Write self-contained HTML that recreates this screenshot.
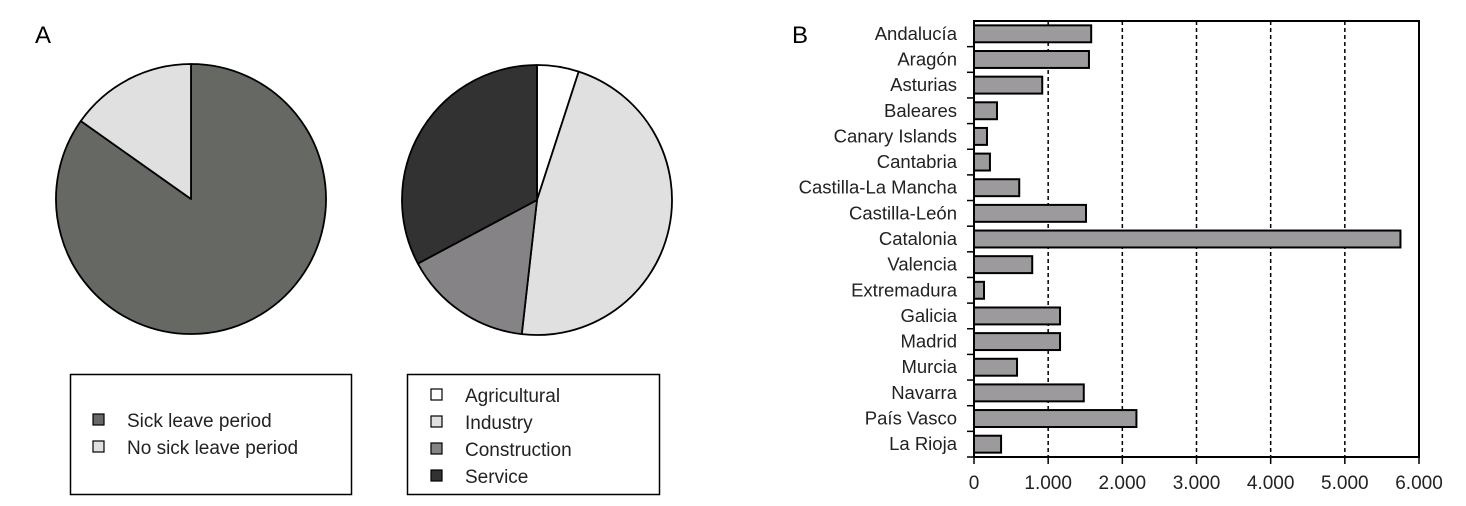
<!DOCTYPE html>
<html><head><meta charset="utf-8"><style>
html,body{margin:0;padding:0;background:#fff;}
svg{display:block;font-family:"Liberation Sans",sans-serif;}
</style></head><body>
<svg id="fig" width="1466" height="506" viewBox="0 0 1466 506" xmlns="http://www.w3.org/2000/svg">
<text x="35" y="43" font-size="24">A</text>
<text x="792" y="43" font-size="24">B</text>
<g id="pie1"></g>
<g id="pie2"></g>
<g>
<rect x="70.5" y="374.5" width="281" height="120" fill="#fff" stroke="#000" stroke-width="1.5"/>
<rect x="93" y="414" width="11" height="11" fill="#666864" stroke="#000" stroke-width="1.2"/>
<text x="127" y="427" font-size="19" fill="#222">Sick leave period</text>
<rect x="93" y="441" width="11" height="11" fill="#e0e0e0" stroke="#000" stroke-width="1.2"/>
<text x="127" y="454" font-size="19" fill="#222">No sick leave period</text>
</g>
<g>
<rect x="407.5" y="374.5" width="252" height="120" fill="#fff" stroke="#000" stroke-width="1.5"/>
<rect x="431" y="389" width="11" height="11" fill="#fff" stroke="#000" stroke-width="1.2"/>
<text x="465" y="402" font-size="19" fill="#222">Agricultural</text>
<rect x="431" y="416" width="11" height="11" fill="#e0e0e0" stroke="#000" stroke-width="1.2"/>
<text x="465" y="429" font-size="19" fill="#222">Industry</text>
<rect x="431" y="443" width="11" height="11" fill="#858386" stroke="#000" stroke-width="1.2"/>
<text x="465" y="456" font-size="19" fill="#222">Construction</text>
<rect x="431" y="470" width="11" height="11" fill="#323232" stroke="#000" stroke-width="1.2"/>
<text x="465" y="483" font-size="19" fill="#222">Service</text>
</g>
<g id="bars"></g>
</svg>
<script>
const pie1Labels = ["Sick leave period","No sick leave period"];
const pie1Values = [84.8, 15.2];
const pie1Colors = ["#666864","#e0e0e0"];
const pie2Labels = ["Agricultural","Industry","Construction","Service"];
const pie2Values = [5.0, 46.8, 15.4, 32.8];
const pie2Colors = ["#ffffff","#e0e0e0","#858386","#323232"];
const regions = ["Andalucía","Aragón","Asturias","Baleares","Canary Islands","Cantabria","Castilla-La Mancha","Castilla-León","Catalonia","Valencia","Extremadura","Galicia","Madrid","Murcia","Navarra","País Vasco","La Rioja"];
const regionValues = [1580,1550,920,310,175,215,610,1510,5750,785,135,1160,1160,580,1480,2190,365];
const xTicks = [0,1000,2000,3000,4000,5000,6000];
const xTickLabels = ["0","1.000","2.000","3.000","4.000","5.000","6.000"];

const NS="http://www.w3.org/2000/svg";
function mk(tag,attrs,parent){const e=document.createElementNS(NS,tag);for(const k in attrs)e.setAttribute(k,attrs[k]);parent.appendChild(e);return e;}

function drawPie(g,cx,cy,r,vals,cols,labels){
  const tot=vals.reduce((a,b)=>a+b,0);let a0=0;
  vals.forEach((v,i)=>{
    const a1=a0+v/tot*2*Math.PI;
    const x0=cx+r*Math.sin(a0),y0=cy-r*Math.cos(a0),x1=cx+r*Math.sin(a1),y1=cy-r*Math.cos(a1);
    const large=(a1-a0)>Math.PI?1:0;
    const p=mk('path',{d:`M${cx},${cy} L${x0},${y0} A${r},${r} 0 ${large} 1 ${x1},${y1} Z`,fill:cols[i],stroke:'#000','stroke-width':1.8,'stroke-linejoin':'round'},g);
    
    
    a0=a1;
  });
}
drawPie(document.getElementById('pie1'),191,199,135,pie1Values,pie1Colors,pie1Labels);
drawPie(document.getElementById('pie2'),537,200,135,pie2Values,pie2Colors,pie2Labels);

const g=document.getElementById('bars');
const x0=974,x1=1419,yTop=21,yBot=457,xMax=6000;
const xs=v=>x0+v/xMax*(x1-x0);
const band=(yBot-yTop)/regions.length;
xTicks.forEach((t,i)=>{
  if(t>0&&t<xMax){const l=mk('line',{x1:xs(t),x2:xs(t),y1:yTop,y2:yBot,stroke:'#000','stroke-width':1.5,'stroke-dasharray':'4,3'},g);
  
  }
  const tk=mk('line',{x1:xs(t),x2:xs(t),y1:yBot,y2:yBot+7,stroke:'#000','stroke-width':1.5},g);
  
  
  const tx=mk('text',{x:xs(t),y:489,'font-size':19,'text-anchor':'middle',fill:'#222'},g);
  tx.textContent=xTickLabels[i];
  
  
});
regions.forEach((r,i)=>{
  const yb=yTop+i*band;
  const tk=mk('line',{x1:x0-7,x2:x0,y1:yb+band,y2:yb+band,stroke:'#000','stroke-width':1.5},g);
  
  
  const b=mk('rect',{x:x0,y:yb+band*0.17,width:xs(regionValues[i])-x0,height:band*0.66,fill:'#9c9a9d',stroke:'#000','stroke-width':2},g);
  
  
  const t=mk('text',{x:957,y:yb+band/2+6,'font-size':18.5,'text-anchor':'end',fill:'#222'},g);
  t.textContent=r;
  
  
});
const frame=mk('rect',{x:x0,y:yTop,width:x1-x0,height:yBot-yTop,fill:'none',stroke:'#000','stroke-width':2},g);


</script>
</body></html>
